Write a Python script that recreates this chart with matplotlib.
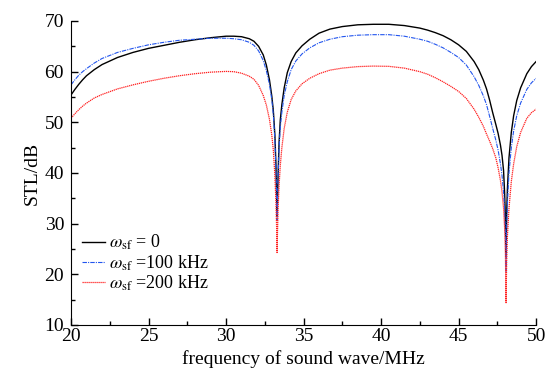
import numpy as np
import matplotlib
matplotlib.use("Agg")
import matplotlib.pyplot as plt
from matplotlib.ticker import MultipleLocator

# values
freq = [20, 20.25, 20.5, 20.75, 21, 21.5, 22, 23, 24, 25, 26, 27, 28, 29, 30,
        30.5, 31, 31.5, 31.8, 32.1, 32.4, 32.6, 32.8, 32.95, 33.05, 33.15,
        33.22, 33.26, 33.29, 33.32, 33.36, 33.42, 33.5, 33.6, 33.75, 33.95,
        34.2, 34.5, 34.9, 35.4, 36, 36.7, 37.5, 38.5, 39.5, 40.5, 41.5, 42.5,
        43, 43.5, 44, 44.5, 45, 45.5, 46, 46.3, 46.6, 46.8, 47.0, 47.2, 47.4,
        47.55, 47.7, 47.8, 47.9, 47.97, 48.02, 48.06, 48.1, 48.15, 48.25, 48.4,
        48.55, 48.75, 49.0, 49.4, 49.7, 50]

stl_0 = [55.4, 56.5, 57.5, 58.4, 59.2, 60.4, 61.4, 62.8, 63.8, 64.6, 65.2, 65.8,
         66.3, 66.7, 67.0, 67.0, 66.9, 66.5, 66.0, 65.0, 63.3, 61.3, 58.4, 55.2,
         52.3, 47.5, 41.5, 36.0, 31.5, 35.0, 40.0, 46.0, 50.5, 53.5, 56.8, 59.8,
         62.0, 63.7, 65.1, 66.4, 67.6, 68.4, 68.9, 69.25, 69.35, 69.35, 69.1,
         68.6, 68.2, 67.7, 67.1, 66.3, 65.3, 64.0, 62.0, 60.4, 58.3, 56.6, 54.4,
         51.9, 49.6, 47.8, 45.5, 43.5, 40.5, 36.0, 31.0, 23.5, 32.0, 37.0, 43.0,
         48.0, 51.3, 54.3, 56.8, 59.6, 61.0, 62.0]

stl_100 = [57.4, 58.4, 59.3, 60.0, 60.6, 61.7, 62.6, 63.8, 64.6, 65.3, 65.8, 66.2,
           66.4, 66.6, 66.6, 66.5, 66.3, 65.8, 65.2, 64.1, 62.2, 60.2, 57.5, 54.5,
           51.5, 46.5, 40.5, 35.5, 30.6, 34.5, 39.5, 45.0, 49.0, 52.0, 55.3, 58.0,
           60.4, 62.1, 63.5, 64.7, 65.7, 66.4, 66.9, 67.2, 67.3, 67.3, 67.0, 66.4,
           66.0, 65.4, 64.7, 63.8, 62.8, 61.3, 59.0, 57.3, 55.2, 53.5, 51.2, 48.8,
           46.5, 44.5, 41.8, 39.5, 36.3, 32.5, 28.0, 20.6, 29.0, 34.0, 40.0, 45.0,
           48.3, 51.3, 53.8, 56.5, 57.8, 58.7]

stl_200 = [50.8, 51.7, 52.5, 53.2, 53.8, 54.8, 55.5, 56.6, 57.4, 58.1, 58.7, 59.2,
           59.6, 59.9, 60.05, 60.0, 59.7, 59.1, 58.5, 57.3, 55.3, 53.4, 50.6, 47.5,
           44.5, 39.5, 34.0, 29.5, 24.3, 28.5, 33.0, 37.5, 41.5, 45.0, 48.8, 52.0,
           54.5, 56.2, 57.6, 58.7, 59.6, 60.3, 60.7, 61.0, 61.1, 61.05, 60.7, 60.0,
           59.5, 58.8, 58.0, 57.1, 56.1, 54.7, 52.6, 51.0, 49.2, 47.7, 46.3, 44.8,
           43.0, 41.0, 38.5, 36.3, 33.0, 29.0, 24.0, 14.4, 22.5, 27.5, 33.0, 38.3,
           41.8, 45.2, 48.0, 50.8, 51.9, 52.6]

plt.rcParams['font.family'] = ['Liberation Serif', 'DejaVu Serif']
plt.rcParams['mathtext.fontset'] = 'stix'

fig = plt.figure(figsize=(5.57, 3.73), dpi=100)
ax = fig.add_axes([0.1275, 0.1287, 0.835, 0.815])

ax.plot(freq, stl_0, color='black', linestyle='-', linewidth=1.0,
        label=r'$\omega_{\rm sf}$ = 0')
ax.plot(freq, stl_100, color='#2255ee', linestyle=(0, (4, 1, 1, 1)), linewidth=0.8,
        label=r'$\omega_{\rm sf}$ =100 kHz')
ax.plot(freq, stl_200, color='#ff2020', linestyle=(0, (1, 0.6)), linewidth=0.9,
        label=r'$\omega_{\rm sf}$ =200 kHz')

ax.set_xlim(20, 50)
ax.set_ylim(10, 70)
ax.xaxis.set_major_locator(MultipleLocator(5))
ax.xaxis.set_minor_locator(MultipleLocator(2.5))
ax.yaxis.set_major_locator(MultipleLocator(10))
ax.yaxis.set_minor_locator(MultipleLocator(5))
ax.tick_params(which='both', direction='in', top=False, right=False,
               labelsize=14, width=1)
ax.tick_params(which='major', length=5)
ax.tick_params(which='minor', length=3)
ax.tick_params(axis='x', pad=2)
ax.tick_params(axis='y', pad=5)
for s in ['top', 'right']:
    ax.spines[s].set_visible(False)

ax.set_xlabel('frequency of sound wave/MHz', fontsize=14, labelpad=4)
ax.set_ylabel('STL/dB', fontsize=14, labelpad=3)

ax.legend(loc='lower left', bbox_to_anchor=(0.0, 0.07), frameon=False,
          fontsize=13, handlelength=1.3, handletextpad=0.2, labelspacing=0.05,
          borderaxespad=0.2)

fig.savefig('out.png', dpi=100)
